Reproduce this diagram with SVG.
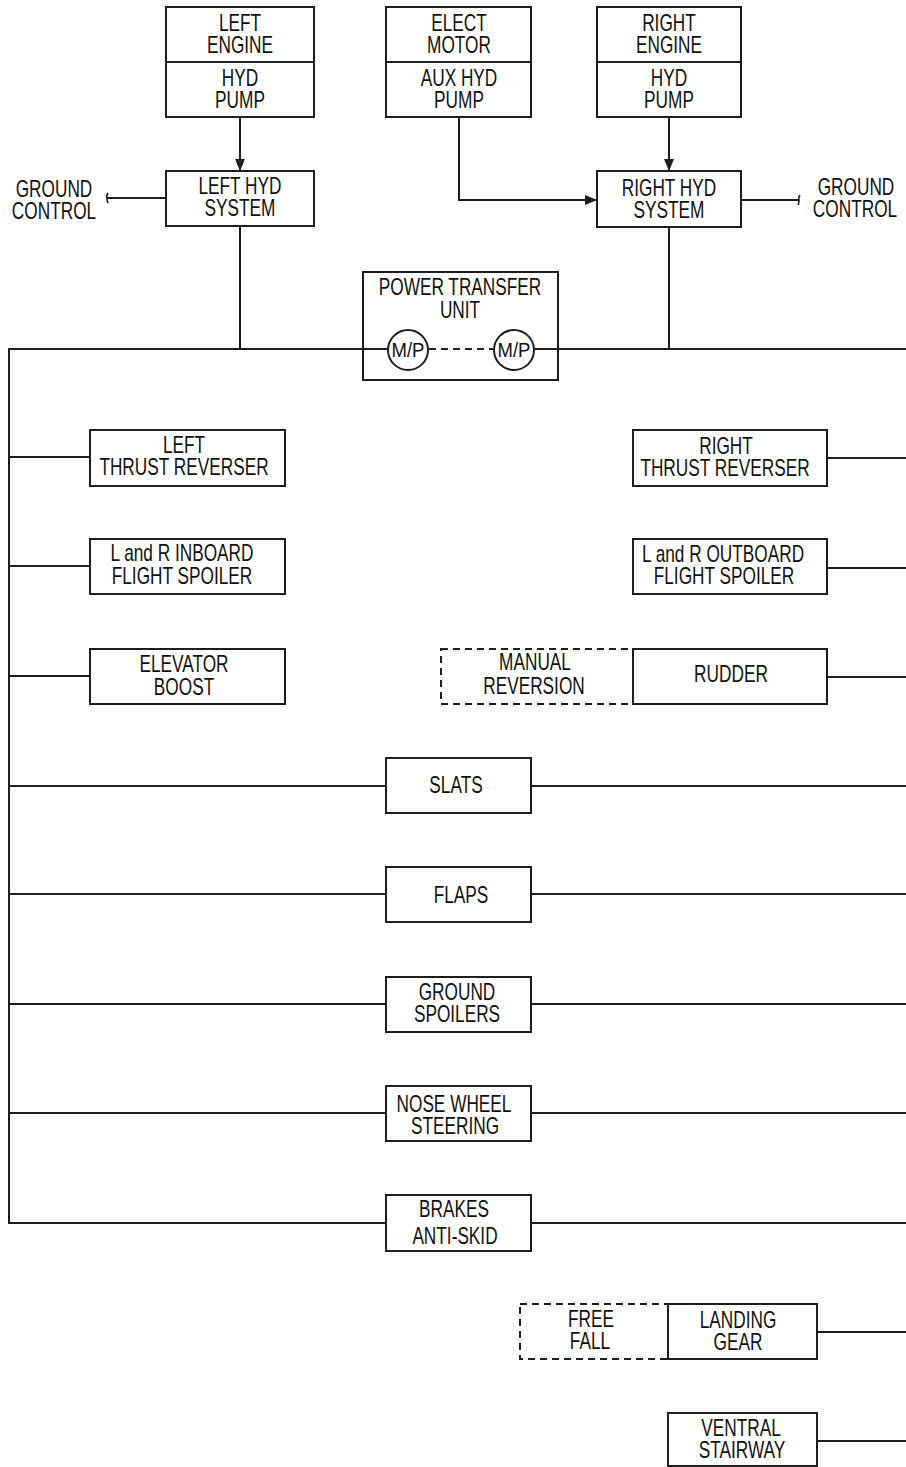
<svg xmlns="http://www.w3.org/2000/svg" width="906" height="1467" viewBox="0 0 906 1467">
<style>
  .box { fill: #fff; stroke: #1e1e1e; stroke-width: 2; }
  .dbox { fill: none; stroke: #1e1e1e; stroke-width: 2; stroke-dasharray: 7 5; }
  .ln { fill: none; stroke: #1e1e1e; stroke-width: 2; }
  .dash { fill: none; stroke: #1e1e1e; stroke-width: 2; stroke-dasharray: 7 5; }
  .tick { fill: none; stroke: #1e1e1e; stroke-width: 1.6; }
  text { font-family: "Liberation Sans Narrow", "Liberation Sans", Arial, sans-serif; font-size: 23px; fill: #111; text-anchor: middle; transform-box: fill-box; transform-origin: center; transform: scaleX(0.75); }
  text.mp { font-size: 21px; transform: scaleX(0.88); }
</style>
<defs>
  <marker id="arr" viewBox="0 0 12 10" refX="12" refY="5" markerWidth="12" markerHeight="10" markerUnits="userSpaceOnUse" orient="auto">
    <path d="M0,0 L12,5 L0,10 Z" fill="#1e1e1e"/>
  </marker>
</defs>
<rect width="906" height="1467" fill="#fff"/>

<g id="connectors">
  <line class="ln" x1="240" y1="117" x2="240" y2="171" marker-end="url(#arr)"/>
  <line class="ln" x1="669" y1="117" x2="669" y2="171" marker-end="url(#arr)"/>
  <path class="ln" d="M459,117 V200 H597" marker-end="url(#arr)"/>
  <line class="ln" x1="166" y1="198" x2="107" y2="198"/>
  <path class="tick" d="M108,193 Q106,196 107,198 Q107,201 108,203"/>
  <line class="ln" x1="741" y1="200" x2="799" y2="200"/>
  <path class="tick" d="M800,195 Q798,198 799,200 Q799,203 798,205"/>
  <line class="ln" x1="240" y1="226" x2="240" y2="349"/>
  <line class="ln" x1="669" y1="227" x2="669" y2="349"/>
  <line class="ln" x1="8" y1="349" x2="388" y2="349"/>
  <line class="dash" x1="429" y1="349" x2="493" y2="349"/>
  <line class="ln" x1="535" y1="349" x2="906" y2="349"/>
  <line class="ln" x1="9" y1="348" x2="9" y2="1224"/>
  <line class="ln" x1="9" y1="457" x2="90" y2="457"/>
  <line class="ln" x1="9" y1="566" x2="90" y2="566"/>
  <line class="ln" x1="9" y1="676" x2="90" y2="676"/>
  <line class="ln" x1="827" y1="458" x2="906" y2="458"/>
  <line class="ln" x1="827" y1="568" x2="906" y2="568"/>
  <line class="ln" x1="827" y1="677" x2="906" y2="677"/>
  <line class="ln" x1="9" y1="786" x2="386" y2="786"/>
  <line class="ln" x1="531" y1="786" x2="906" y2="786"/>
  <line class="ln" x1="9" y1="894" x2="386" y2="894"/>
  <line class="ln" x1="531" y1="894" x2="906" y2="894"/>
  <line class="ln" x1="9" y1="1004" x2="386" y2="1004"/>
  <line class="ln" x1="531" y1="1004" x2="906" y2="1004"/>
  <line class="ln" x1="9" y1="1113" x2="386" y2="1113"/>
  <line class="ln" x1="531" y1="1113" x2="906" y2="1113"/>
  <line class="ln" x1="9" y1="1223" x2="386" y2="1223"/>
  <line class="ln" x1="531" y1="1223" x2="906" y2="1223"/>
  <line class="ln" x1="817" y1="1332" x2="906" y2="1332"/>
  <line class="ln" x1="817" y1="1441" x2="906" y2="1441"/>
</g>

<g id="left-engine-pump">
  <rect class="box" x="166" y="7" width="148" height="110"/>
  <line class="ln" x1="166" y1="62" x2="314" y2="62"/>
  <text x="240" y="31">LEFT</text>
  <text x="240" y="53">ENGINE</text>
  <text x="240" y="86">HYD</text>
  <text x="240" y="108">PUMP</text>
</g>
<g id="elect-motor-aux-pump">
  <rect class="box" x="386" y="7" width="145" height="110"/>
  <line class="ln" x1="386" y1="62" x2="531" y2="62"/>
  <text x="459" y="31">ELECT</text>
  <text x="459" y="53">MOTOR</text>
  <text x="459" y="86">AUX HYD</text>
  <text x="459" y="108">PUMP</text>
</g>
<g id="right-engine-pump">
  <rect class="box" x="597" y="7" width="144" height="110"/>
  <line class="ln" x1="597" y1="62" x2="741" y2="62"/>
  <text x="669" y="31">RIGHT</text>
  <text x="669" y="53">ENGINE</text>
  <text x="669" y="86">HYD</text>
  <text x="669" y="108">PUMP</text>
</g>
<g id="left-hyd-system">
  <rect class="box" x="166" y="171" width="148" height="55"/>
  <text x="240" y="194">LEFT HYD</text>
  <text x="240" y="216">SYSTEM</text>
</g>
<g id="right-hyd-system">
  <rect class="box" x="597" y="171" width="144" height="56"/>
  <text x="669" y="196">RIGHT HYD</text>
  <text x="669" y="218">SYSTEM</text>
</g>
<g id="ground-control-left">
  <text x="54" y="197">GROUND</text>
  <text x="54" y="219">CONTROL</text>
</g>
<g id="ground-control-right">
  <text x="856" y="195">GROUND</text>
  <text x="855" y="217">CONTROL</text>
</g>
<g id="power-transfer-unit">
  <rect class="box" x="363" y="272" width="195" height="108" style="fill:none"/>
  <text x="460" y="295">POWER TRANSFER</text>
  <text x="460" y="318">UNIT</text>
  <circle class="box" cx="408" cy="350" r="20"/>
  <text class="mp" x="408" y="357">M/P</text>
  <circle class="box" cx="514" cy="350" r="20"/>
  <text class="mp" x="514" y="357">M/P</text>
</g>
<g id="left-thrust-reverser">
  <rect class="box" x="90" y="430" width="195" height="56"/>
  <text x="184" y="453">LEFT</text>
  <text x="184" y="475">THRUST REVERSER</text>
</g>
<g id="inboard-flight-spoiler">
  <rect class="box" x="90" y="539" width="195" height="55"/>
  <text x="182" y="561">L and R INBOARD</text>
  <text x="182" y="584">FLIGHT SPOILER</text>
</g>
<g id="elevator-boost">
  <rect class="box" x="90" y="649" width="195" height="55"/>
  <text x="184" y="672">ELEVATOR</text>
  <text x="184" y="695">BOOST</text>
</g>
<g id="right-thrust-reverser">
  <rect class="box" x="633" y="430" width="194" height="56"/>
  <text x="726" y="454">RIGHT</text>
  <text x="725" y="476">THRUST REVERSER</text>
</g>
<g id="outboard-flight-spoiler">
  <rect class="box" x="633" y="539" width="194" height="55"/>
  <text x="723" y="562">L and R OUTBOARD</text>
  <text x="724" y="584">FLIGHT SPOILER</text>
</g>
<g id="manual-reversion">
  <rect class="dbox" x="441" y="649" width="192" height="55"/>
  <text x="535" y="670">MANUAL</text>
  <text x="534" y="694">REVERSION</text>
</g>
<g id="rudder">
  <rect class="box" x="633" y="649" width="194" height="55"/>
  <text x="731" y="682">RUDDER</text>
</g>
<g id="slats">
  <rect class="box" x="386" y="758" width="145" height="55"/>
  <text x="456" y="793">SLATS</text>
</g>
<g id="flaps">
  <rect class="box" x="386" y="867" width="145" height="55"/>
  <text x="461" y="903">FLAPS</text>
</g>
<g id="ground-spoilers">
  <rect class="box" x="386" y="977" width="145" height="55"/>
  <text x="457" y="1000">GROUND</text>
  <text x="457" y="1022">SPOILERS</text>
</g>
<g id="nose-wheel-steering">
  <rect class="box" x="386" y="1086" width="145" height="55"/>
  <text x="454" y="1112">NOSE WHEEL</text>
  <text x="455" y="1134">STEERING</text>
</g>
<g id="brakes-anti-skid">
  <rect class="box" x="386" y="1195" width="145" height="56"/>
  <text x="454" y="1217">BRAKES</text>
  <text x="455" y="1244">ANTI-SKID</text>
</g>
<g id="free-fall">
  <rect class="dbox" x="520" y="1304" width="148" height="55"/>
  <text x="591" y="1327">FREE</text>
  <text x="590" y="1349">FALL</text>
</g>
<g id="landing-gear">
  <rect class="box" x="668" y="1304" width="149" height="55"/>
  <text x="738" y="1328">LANDING</text>
  <text x="738" y="1350">GEAR</text>
</g>
<g id="ventral-stairway">
  <rect class="box" x="668" y="1413" width="149" height="53"/>
  <text x="741" y="1436">VENTRAL</text>
  <text x="742" y="1458">STAIRWAY</text>
</g>
</svg>
